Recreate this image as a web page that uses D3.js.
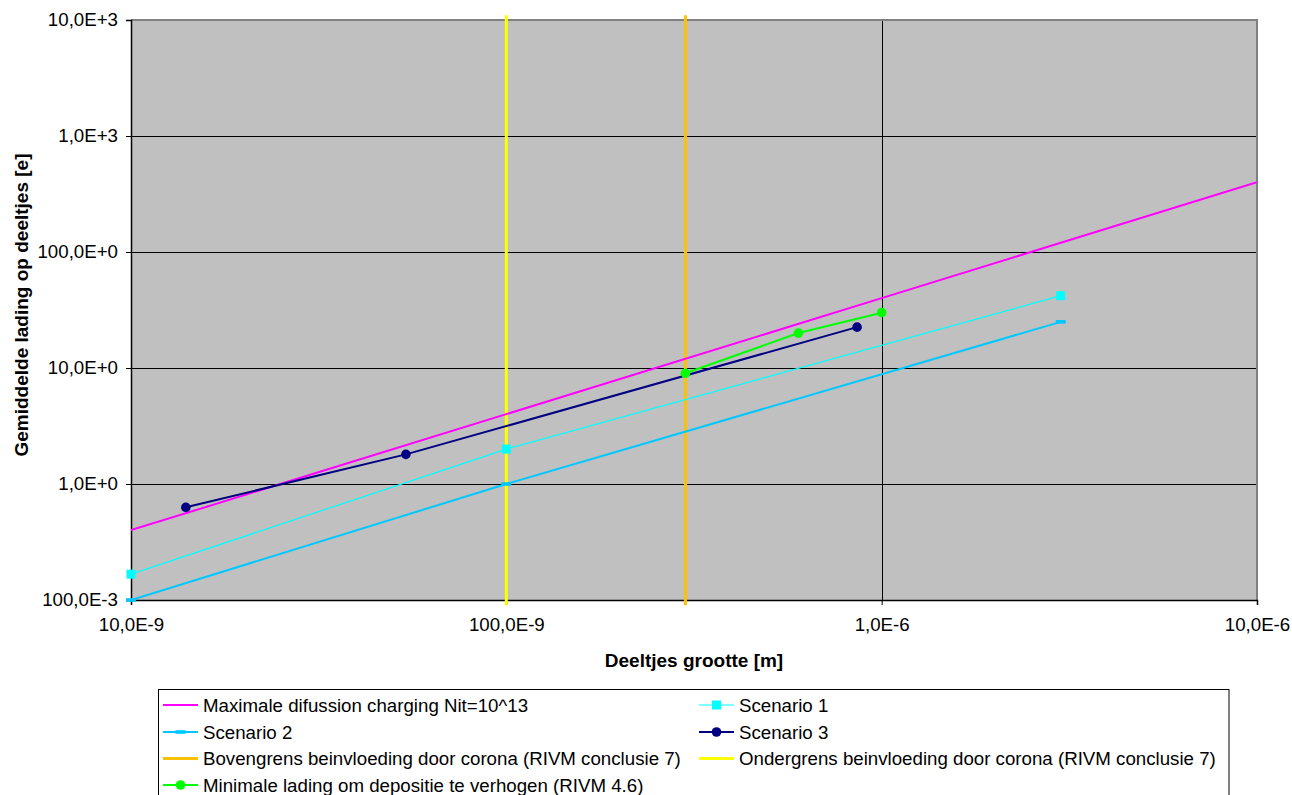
<!DOCTYPE html>
<html>
<head>
<meta charset="utf-8">
<script src="https://cdn.jsdelivr.net/npm/d3@7"></script>
<style>
  body { margin: 0; background: #ffffff; }
  svg { display: block; }
  text { font-family: "Liberation Sans", Arial, sans-serif; }
</style>
</head>
<body>
<svg id="chart" width="1292" height="795"></svg>
<script>
// ---- data ----
const xTickValues = [1e-8, 1e-7, 1e-6, 1e-5];
const xTickLabels = ["10,0E-9", "100,0E-9", "1,0E-6", "10,0E-6"];
const yTickValues = [0.1, 1, 10, 100, 1000, 10000];
const yTickLabels = ["100,0E-3", "1,0E+0", "10,0E+0", "100,0E+0", "1,0E+3", "10,0E+3"];

const maxDiffX = [1e-8, 1e-7, 1e-6, 1e-5];
const maxDiffY = [0.4, 4, 40, 400];

const scen1X = [1e-8, 1e-7, 3e-6];
const scen1Y = [0.167, 2.0, 42];

const scen2X = [1e-8, 1e-7, 3e-6];
const scen2Y = [0.1, 1.0, 25];

const scen3X = [1.4e-8, 5.4e-8, 8.6e-7];
const scen3Y = [0.63, 1.8, 22.5];

const bovenX = [3e-7, 3e-7];
const bovenY = [0.09, 11000];

const onderX = [1e-7, 1e-7];
const onderY = [0.09, 11000];

const minLadX = [3e-7, 6e-7, 1e-6];
const minLadY = [9, 20, 30];

const seriesNames = [
  "Maximale difussion charging Nit=10^13",
  "Scenario 1",
  "Scenario 2",
  "Scenario 3",
  "Bovengrens beinvloeding door corona (RIVM conclusie 7)",
  "Ondergrens beinvloeding door corona (RIVM conclusie 7)",
  "Minimale lading om depositie te verhogen (RIVM 4.6)"
];

// ---- layout ----
const W = 1292, H = 795;
const plot = { left: 131, top: 20, right: 1257, bottom: 600 };
const FONT = 18.7;

const svg = d3.select("#chart");

const x = d3.scaleLog().domain([1e-8, 1e-5]).range([plot.left, plot.right]);
const y = d3.scaleLog().domain([0.1, 10000]).range([plot.bottom, plot.top]);

// plot background
svg.append("rect")
  .attr("x", plot.left).attr("y", plot.top)
  .attr("width", plot.right - plot.left).attr("height", plot.bottom - plot.top)
  .attr("fill", "#c0c0c0");

// gridlines
const gridY = svg.append("g")
  .attr("transform", `translate(${plot.left},0)`)
  .call(d3.axisLeft(y).tickValues(yTickValues.slice(1, -1))
    .tickSize(-(plot.right - plot.left)).tickFormat(""));
gridY.select(".domain").remove();
gridY.selectAll("line").attr("stroke", "#000").attr("stroke-width", 1).attr("shape-rendering", "crispEdges");

const gridX = svg.append("g")
  .attr("transform", `translate(0,${plot.bottom})`)
  .call(d3.axisBottom(x).tickValues(xTickValues.slice(1, -1))
    .tickSize(-(plot.bottom - plot.top)).tickFormat(""));
gridX.select(".domain").remove();
gridX.selectAll("line").attr("stroke", "#000").attr("stroke-width", 1).attr("shape-rendering", "crispEdges");

// plot border (top/right gray)
svg.append("path")
  .attr("d", `M${plot.left},${plot.top}H${plot.right}V${plot.bottom}`)
  .attr("fill", "none").attr("stroke", "#808080").attr("stroke-width", 1.5)
  .attr("shape-rendering", "crispEdges");

// axes
const yAxis = svg.append("g")
  .attr("transform", `translate(${plot.left},0)`)
  .call(d3.axisLeft(y).tickValues(yTickValues)
    .tickFormat((d, i) => yTickLabels[i]).tickSize(5).tickPadding(8));
yAxis.select(".domain").attr("stroke", "#000").attr("stroke-width", 1.5);
yAxis.selectAll("line").attr("stroke", "#000");
yAxis.selectAll("text").attr("font-size", FONT).attr("fill", "#000")
  .style("font-family", '"Liberation Sans", Arial, sans-serif');

const xAxis = svg.append("g")
  .attr("transform", `translate(0,${plot.bottom})`)
  .call(d3.axisBottom(x).tickValues(xTickValues)
    .tickFormat((d, i) => xTickLabels[i]).tickSize(5).tickPadding(13));
xAxis.select(".domain").attr("stroke", "#000").attr("stroke-width", 1.5);
xAxis.selectAll("line").attr("stroke", "#000");
xAxis.selectAll("text").attr("font-size", FONT).attr("fill", "#000")
  .style("font-family", '"Liberation Sans", Arial, sans-serif');

// axis titles
svg.append("text")
  .attr("x", 694).attr("y", 667)
  .attr("text-anchor", "middle")
  .attr("font-size", 19).attr("font-weight", "bold")
  .text("Deeltjes grootte [m]");

svg.append("text")
  .attr("transform", "translate(28,305) rotate(-90)")
  .attr("text-anchor", "middle")
  .attr("font-size", 19).attr("font-weight", "bold")
  .text("Gemiddelde lading op deeltjes [e]");

// ---- series ----
const line = d3.line().x(d => x(d[0])).y(d => y(d[1]));
const zip = (xs, ys) => xs.map((v, i) => [v, ys[i]]);

const series = [
  { name: seriesNames[4], pts: zip(bovenX, bovenY), color: "#ffc000", width: 3, marker: "none" },
  { name: seriesNames[5], pts: zip(onderX, onderY), color: "#ffff00", width: 3, marker: "none" },
  { name: seriesNames[0], pts: zip(maxDiffX, maxDiffY), color: "#ff00ff", width: 2, marker: "none" },
  { name: seriesNames[1], pts: zip(scen1X, scen1Y), color: "#00ffff", width: 1.2, marker: "square" },
  { name: seriesNames[2], pts: zip(scen2X, scen2Y), color: "#00c8ff", width: 2, marker: "dash" },
  { name: seriesNames[3], pts: zip(scen3X, scen3Y), color: "#000080", width: 2, marker: "circle" },
  { name: seriesNames[6], pts: zip(minLadX, minLadY), color: "#00ff00", width: 2, marker: "circle" }
];

const clip = svg.append("defs").append("clipPath").attr("id", "plotclip")
  .append("rect").attr("x", plot.left).attr("y", 14)
  .attr("width", plot.right - plot.left).attr("height", 592);

const gLines = svg.append("g").attr("clip-path", "url(#plotclip)");
series.forEach(s => {
  gLines.append("path")
    .attr("d", line(s.pts))
    .attr("fill", "none")
    .attr("stroke", s.color)
    .attr("stroke-width", s.width);
});

function drawMarker(g, type, cx, cy, color) {
  if (type === "square") {
    g.append("rect").attr("x", cx - 4.5).attr("y", cy - 4.5).attr("width", 9).attr("height", 9).attr("fill", color);
  } else if (type === "circle") {
    g.append("circle").attr("cx", cx).attr("cy", cy).attr("r", 4.8).attr("fill", color);
  } else if (type === "dash") {
    g.append("rect").attr("x", cx - 5).attr("y", cy - 1.8).attr("width", 10).attr("height", 3.6).attr("fill", color);
  }
}

const gMarks = svg.append("g");
series.forEach(s => {
  if (s.marker === "none") return;
  s.pts.forEach(p => drawMarker(gMarks, s.marker, x(p[0]), y(p[1]), s.color));
});

// ---- legend ----
const legend = svg.append("g");
legend.append("rect")
  .attr("x", 158.5).attr("y", 689.5)
  .attr("width", 1229 - 158.5).attr("height", 120)
  .attr("fill", "#fff").attr("stroke", "#000").attr("stroke-width", 1);

const legendOrder = [0, 1, 2, 3, 4, 5, 6];
const legendStyle = {
  0: { color: "#ff00ff", width: 2, marker: "none" },
  1: { color: "#00ffff", width: 1.2, marker: "square" },
  2: { color: "#00c8ff", width: 2, marker: "dash" },
  3: { color: "#000080", width: 2, marker: "circle" },
  4: { color: "#ffc000", width: 3, marker: "none" },
  5: { color: "#ffff00", width: 3, marker: "none" },
  6: { color: "#00ff00", width: 2, marker: "circle" }
};
const colX = [163, 699];
const rowY = [705, 732, 758.5, 785];

legendOrder.forEach((idx, k) => {
  const col = k % 2, row = Math.floor(k / 2);
  const lx = colX[col], ly = rowY[row];
  const st = legendStyle[idx];
  legend.append("line")
    .attr("x1", lx).attr("x2", lx + 35).attr("y1", ly).attr("y2", ly)
    .attr("stroke", st.color).attr("stroke-width", st.width);
  if (st.marker !== "none") drawMarker(legend, st.marker, lx + 17.5, ly, st.color);
  legend.append("text")
    .attr("x", lx + 40).attr("y", ly)
    .attr("dy", "0.35em")
    .attr("font-size", FONT)
    .attr("fill", "#000")
    .text(seriesNames[idx]);
});
</script>
</body>
</html>
